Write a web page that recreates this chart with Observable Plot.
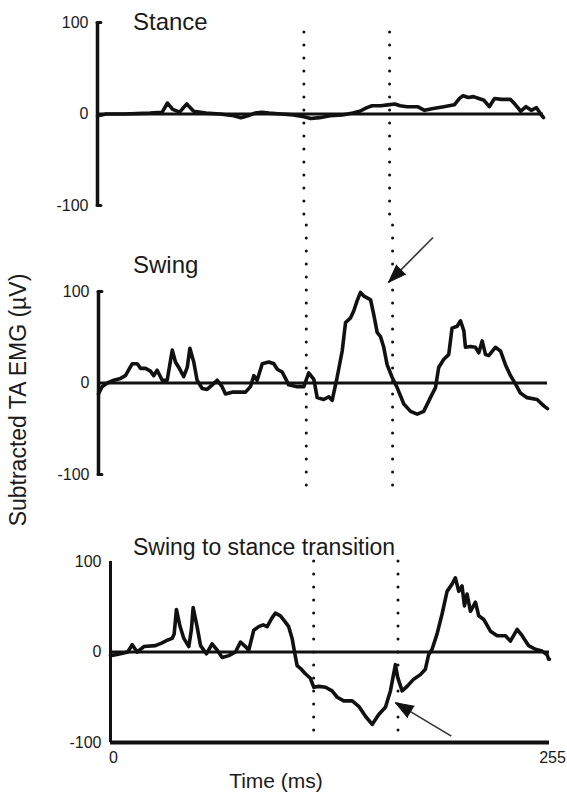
<!DOCTYPE html>
<html><head><meta charset="utf-8">
<script src="https://cdn.jsdelivr.net/npm/d3@7"></script>
<script src="https://cdn.jsdelivr.net/npm/@observablehq/plot@0.6"></script>
<style>
html,body{margin:0;padding:0;background:#fff;}
#fig{position:relative;width:567px;height:794px;overflow:hidden;font-family:"Liberation Sans",Arial,Helvetica,sans-serif;color:#1a1a1a;}
.panel{position:absolute;left:0;}
.lbl{position:absolute;white-space:nowrap;line-height:1;}
</style></head><body><div id="fig"></div>
<script>
// ---- data (time in ms, subtracted TA EMG in µV) ----
const stanceTime  = [0, 5, 15, 30, 37, 40, 43, 47, 51, 55, 62, 70, 78, 82, 86, 90, 94, 98, 105, 112, 118, 122, 127, 133, 140, 146, 150, 154, 157, 162, 166, 170, 173, 177, 183, 187, 192, 198, 204, 207, 209, 212, 215, 218, 221, 224, 227, 231, 236, 239, 242, 245, 248, 251, 253, 255];
const stanceValue = [-2, 0, 0, 1, 2, 12, 5, 2, 11, 3, 1, 0, -2, -4, -2, 1, 2, 1, 0, -1, -3, -5, -4, -2, -1, 1, 3, 7, 9, 9, 10, 11, 9, 8, 8, 4, 6, 8, 10, 17, 20, 18, 19, 17, 15, 8, 17, 16, 16, 10, 3, 8, 4, 7, 1, -4];

const swingTime  = [0, 2, 5, 8.7, 12.5, 15.3, 19.1, 22, 23.9, 26.7, 29.5, 31.4, 33.3, 36.2, 39, 41.9, 43.7, 45.6, 48.4, 50.4, 51.9, 54.1, 56, 58.9, 61.7, 64.6, 67.4, 70.2, 72.1, 75.9, 83.5, 86.3, 88.2, 90.1, 93, 96.7, 99.6, 101.5, 104.3, 106.2, 108, 112.8, 116.6, 119.4, 122.3, 124.2, 127.9, 130.8, 132.7, 135.5, 138.4, 140.3, 143.1, 145, 146.9, 148.8, 150.7, 152.6, 154.5, 156.3, 158.3, 160.1, 162, 163.9, 166.8, 169.6, 173.4, 177.2, 181, 184.7, 188.5, 191.4, 193.2, 196.1, 198.9, 200.8, 203.7, 205.6, 207.5, 208.4, 211.2, 214.1, 216, 217.9, 219.8, 221.6, 225.4, 228.3, 231.1, 234, 236.8, 239.6, 243.4, 249.1, 252.9, 255];
const swingValue = [-12, -4, 0, 3, 5, 8, 21, 21, 16, 16, 13, 8, 14, 3, 3, 36, 23, 17, 7, 17, 38, 23, 3, -6, -7, -2, 3, -4, -12, -10, -10, -4, 8, 3, 21, 23, 21, 15, 12, 5, -2, -4, -4, 11, 4, -16, -18, -15, -19, 6, 35, 66, 71, 79, 90, 99, 95, 93, 91, 75, 55, 51, 39, 20, 6, -5, -23, -31, -34, -31, -16, -5, 17, 26, 31, 60, 62, 68, 57, 39, 40, 39, 33, 46, 31, 30, 39, 35, 20, 8, -1, -11, -16, -18, -25, -28];

const transitionTime  = [0, 3, 5.8, 10, 12.6, 15.5, 19.4, 26.1, 30, 32.9, 35.8, 37, 38.3, 40.3, 42.6, 45.5, 47, 48, 50.3, 52.3, 55.7, 59, 62, 64.9, 68.7, 72.6, 75.5, 78.4, 80.3, 83.2, 86.1, 88.7, 91, 93.9, 95.8, 98.7, 101.6, 103.5, 105.5, 106.9, 108.4, 110.3, 113.2, 116.1, 118.1, 121, 124.9, 128.7, 131.7, 135.5, 140.4, 144.2, 148.1, 152, 155.8, 159.7, 162.6, 165.5, 166.8, 169.4, 172.3, 176.1, 180, 182.9, 184.8, 186.8, 189.7, 192.6, 195.5, 198.4, 200.3, 202.3, 204.2, 205.6, 207.1, 209.1, 212, 213.9, 216.8, 220.7, 224.6, 229.4, 232.3, 236.2, 239.1, 242.9, 246.8, 250.7, 253.6, 254.5, 255];
const transitionValue = [-4, -3, -2, 0, 8, 0, 6, 7, 10, 13, 15, 20, 47, 29, 15, 6, 25, 49, 28, 7, -2, 9, 2, -6, -4, 0, 11, 6, 2, 24, 28, 30, 28, 38, 43, 40, 33, 28, 15, 0, -15, -18, -24, -29, -39, -38, -39, -43, -50, -54, -54, -60, -71, -80, -69, -61, -43, -14, -28, -43, -38, -30, -25, -19, -3, 3, 20, 42, 67, 75, 82, 67, 73, 51, 64, 45, 55, 40, 36, 23, 18, 18, 12, 25, 18, 7, 3, 1, -3, -8, -8];

const markerTimes = [118, 167];          // dotted vertical markers (ms)
const yTicks = [-100, 0, 100];
const xTicks = [0, 255];
const swingArrowTime = [190, 164.7];     // tail, tip
const swingArrowValue = [159, 110];
const transitionArrowTime = [198, 165.5];
const transitionArrowValue = [-93, -56];

const panelTitles = ["Stance", "Swing", "Swing to stance transition"];
const yLabel = "Subtracted TA EMG (µV)";
const xLabel = "Time (ms)";

// ---- drawing ----
const W = 567, INK = "#111";
const fig = document.getElementById("fig");
const toRows = (t, v) => t.map((d, i) => ({t: d, v: v[i]}));

function panel(cfg) {
  const {top, height, ml, mr, mt, mb, time, value, dotY, arrowT, arrowV, axisW, bottomAxis} = cfg;
  const kx = (W - ml - mr) / 255, ky = (height - mt - mb) / 200;
  const marks = [];
  marks.push(Plot.ruleX(markerTimes, {y1: dotY[0], y2: dotY[1], stroke: INK, strokeWidth: 3, strokeDasharray: "0 13", strokeLinecap: "round"}));
  marks.push(Plot.ruleX([0], {y1: -100, y2: 100, stroke: INK, strokeWidth: axisW}));
  if (!bottomAxis) marks.push(Plot.ruleY([-100, 100], {x1: 0, x2: 2.2, stroke: INK, strokeWidth: 3, strokeLinecap: "round"}));
  marks.push(Plot.ruleY([0], {x1: 0, x2: 255, stroke: INK, strokeWidth: 3}));
  if (bottomAxis) {
    marks.push(Plot.ruleY([-100], {x1: 0, x2: 255, stroke: INK, strokeWidth: 4}));
    marks.push(Plot.axisX(xTicks, {tickSize: 0, tickPadding: 9, fontSize: 16, label: null, tickFormat: d => String(d), dx: 3}));
  }
  marks.push(Plot.axisY(yTicks, {tickSize: 0, tickPadding: 9, fontSize: 16, label: null, tickFormat: d => String(d)}));
  marks.push(Plot.line(toRows(time, value), {x: "t", y: "v", stroke: INK, strokeWidth: 3.6, strokeLinejoin: "round"}));
  if (arrowT) {
    const dx = (arrowT[1] - arrowT[0]) * kx, dy = -(arrowV[1] - arrowV[0]) * ky;
    const ang = (Math.atan2(dx, -dy) * 180 / Math.PI + 360) % 360;
    marks.push(Plot.link([{x1: arrowT[0], y1: arrowV[0], x2: arrowT[1], y2: arrowV[1]}], {x1: "x1", y1: "y1", x2: "x2", y2: "y2", stroke: "#333", strokeWidth: 1.6}));
    marks.push(Plot.vector([{t: arrowT[1], v: arrowV[1]}], {x: "t", y: "v", rotate: ang, length: 18, r: 6.5, shape: "spike", anchor: "end", fill: INK, stroke: INK, strokeWidth: 1}));
  }
  const svg = Plot.plot({
    width: W, height, marginLeft: ml, marginRight: mr, marginTop: mt, marginBottom: mb,
    x: {domain: [0, 255], axis: bottomAxis ? undefined : null},
    y: {domain: [-100, 100]},
    style: {fontFamily: '"Liberation Sans", Arial, sans-serif', fontSize: "16px", color: "#1a1a1a", background: "transparent", overflow: "visible"},
    marks
  });
  svg.classList.add("panel");
  svg.style.top = top + "px";
  svg.style.position = "absolute";
  fig.appendChild(svg);
}

panel({top: 0, height: 225, ml: 97, mr: 24, mt: 22, mb: 20, time: stanceTime, value: stanceValue, dotY: [89, -122], axisW: 3.5});
panel({top: 225, height: 275, ml: 98, mr: 20, mt: 66, mb: 26, time: swingTime, value: swingValue, dotY: [172, -123], arrowT: swingArrowTime, arrowV: swingArrowValue, axisW: 3.5});
panel({top: 500, height: 294, ml: 110, mr: 18, mt: 61, mb: 52, time: transitionTime, value: transitionValue, dotY: [100, -89], arrowT: transitionArrowTime, arrowV: transitionArrowValue, axisW: 3, bottomAxis: true});

function label(text, css) {
  const d = document.createElement("div");
  d.className = "lbl";
  d.textContent = text;
  Object.assign(d.style, css);
  fig.appendChild(d);
}
label(panelTitles[0], {left: "133px", top: "10px", fontSize: "24px"});
label(panelTitles[1], {left: "133px", top: "253px", fontSize: "24px"});
label(panelTitles[2], {left: "133px", top: "536px", fontSize: "23px"});
label(xLabel, {left: "276px", top: "770px", fontSize: "21px", transform: "translateX(-50%)"});
label(yLabel, {left: "18px", top: "400px", fontSize: "23px", transform: "translate(-50%,-50%) rotate(-90deg)"});
</script></body></html>
